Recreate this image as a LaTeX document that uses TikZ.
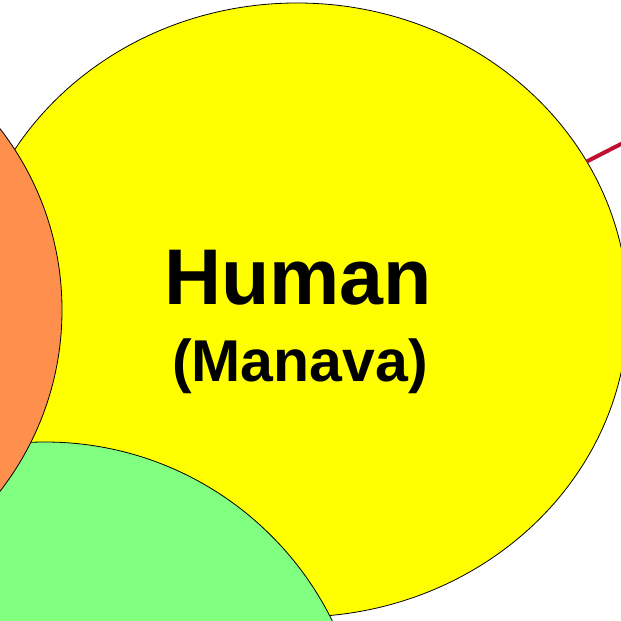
\documentclass[tikz,border=0pt]{standalone}
\usepackage{fontspec}
\setmainfont{Liberation Sans}
\usetikzlibrary{shapes.geometric}
\definecolor{yel}{RGB}{255,255,0}
\definecolor{ora}{RGB}{255,143,77}
\definecolor{grn}{RGB}{128,255,128}
\definecolor{lnk}{RGB}{190,16,48}
\begin{document}
\begin{tikzpicture}[x=1pt,y=-1pt,
  blob/.style={draw=black, line width=0.8pt, inner sep=0pt, outer sep=0pt},
  lbl/.style={anchor=base, inner sep=0pt, font=\bfseries}]
\useasboundingbox (0,0) rectangle (621,621);
\clip (0,0) rectangle (621,621);
\node[blob, ellipse, fill=yel, minimum width=662pt, minimum height=614pt] (Y) at (297,310) {};
\node[blob, circle, fill=grn, minimum size=640pt] (G) at (45,762) {};
\node[blob, circle, fill=ora, minimum size=592pt] (O) at (-234,310) {};
\coordinate (far) at (660,124);
\draw[lnk, line width=4pt] (far) -- (Y);
\node[lbl, font=\fontsize{79}{79}\selectfont\bfseries] (human) at (298,304) {Human};
\node[lbl, font=\fontsize{59}{59}\selectfont\bfseries] (manava) at (300,381) {(Manava)};
\end{tikzpicture}
\end{document}
